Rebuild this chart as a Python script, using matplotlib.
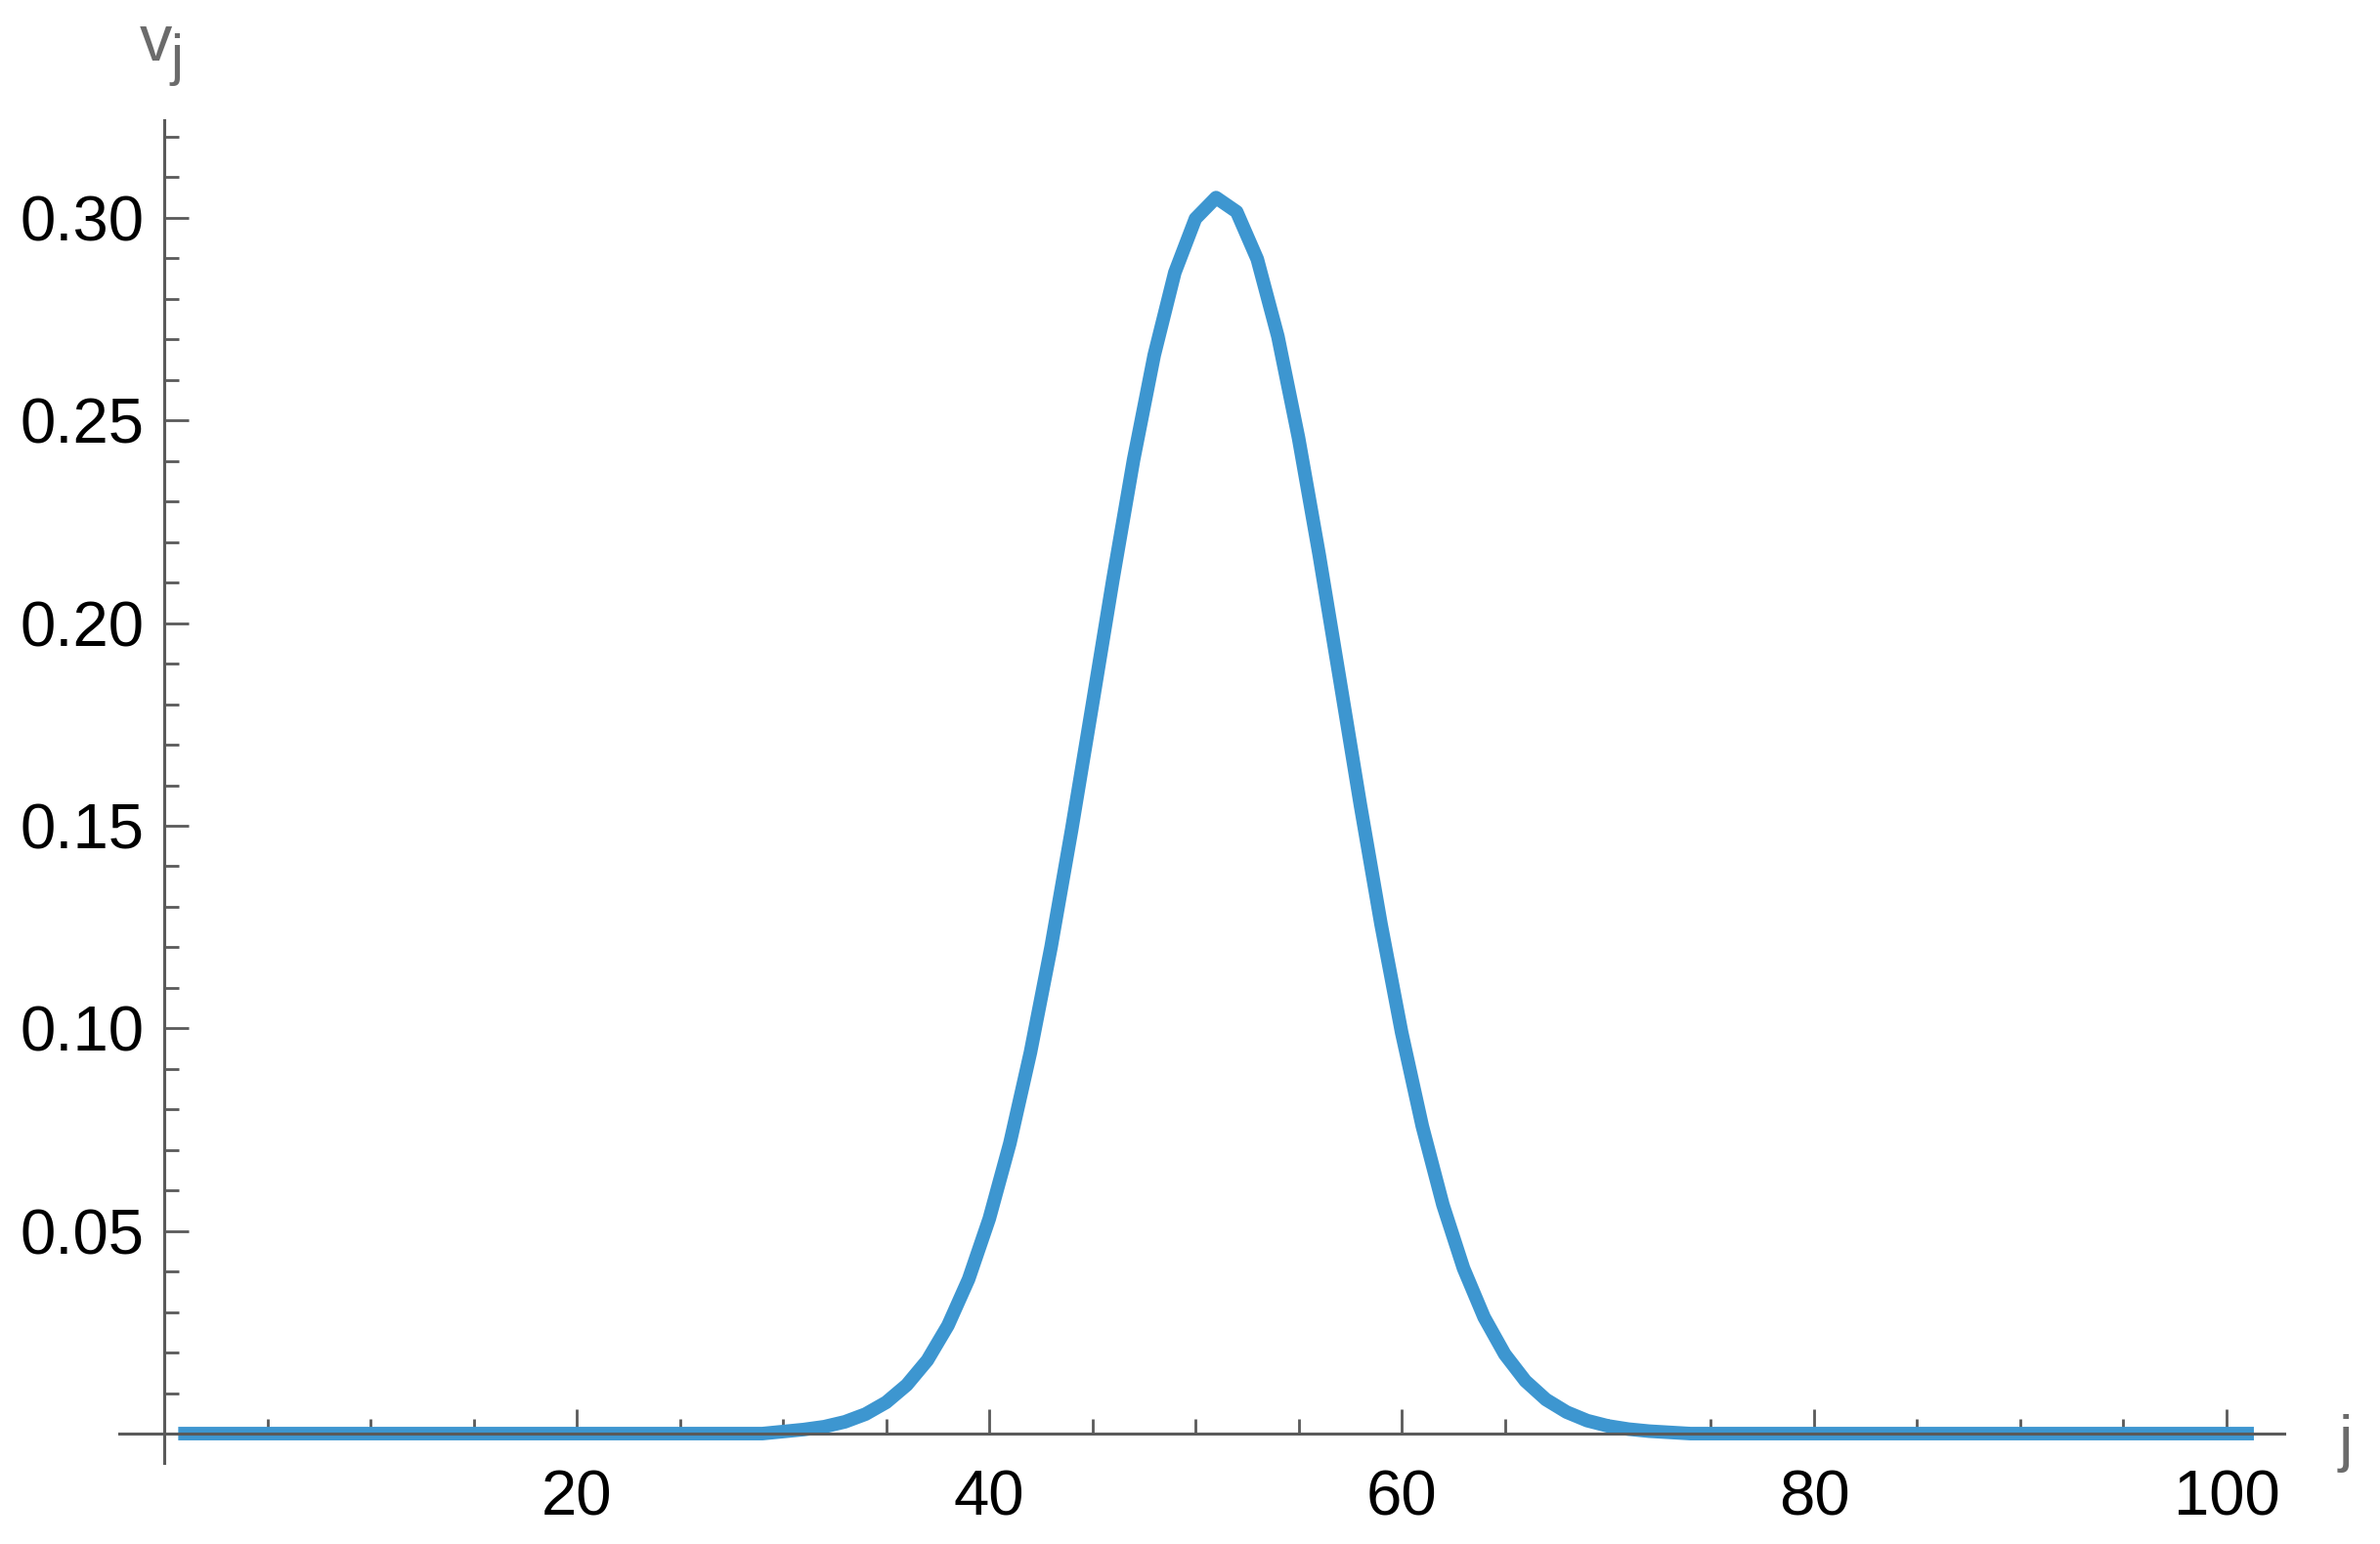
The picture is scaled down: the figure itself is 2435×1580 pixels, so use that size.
import matplotlib
matplotlib.use("Agg")
import matplotlib.pyplot as plt
from matplotlib.ticker import FixedLocator, MultipleLocator, FormatStrFormatter

plt.rcParams["font.family"] = ["Liberation Sans", "DejaVu Sans"]

# site index and amplitude
j = list(range(1, 102))
v = [
    0.0, 0.0, 0.0, 0.0, 0.0, 0.0, 0.0, 0.0, 0.0, 0.0,
    0.0, 0.0, 0.0, 0.0, 0.0, 0.0, 0.0, 0.0, 0.0, 0.0,
    0.0, 0.0, 0.0, 0.0, 0.0, 0.0, 0.0, 0.0, 0.0,
    0.0005, 0.0010, 0.0017, 0.0029, 0.0048, 0.0077, 0.0120, 0.0181, 0.0267, 0.0381,
    0.0530, 0.0716, 0.0941, 0.1201, 0.1491, 0.1798, 0.2108, 0.2403, 0.2661, 0.2865,
    0.2998, 0.3050, 0.3015, 0.2898, 0.2707, 0.2457, 0.2169, 0.1861, 0.1551, 0.1257,
    0.0990, 0.0759, 0.0565, 0.0408, 0.0287, 0.0196, 0.0130, 0.0084, 0.0053, 0.0032,
    0.0019, 0.0011, 0.0006, 0.0003,
    0.0, 0.0, 0.0, 0.0, 0.0, 0.0, 0.0, 0.0, 0.0, 0.0,
    0.0, 0.0, 0.0, 0.0, 0.0, 0.0, 0.0, 0.0, 0.0, 0.0,
    0.0, 0.0, 0.0, 0.0, 0.0, 0.0, 0.0, 0.0,
]
x_major = [20, 40, 60, 80, 100]
y_major = [0.05, 0.10, 0.15, 0.20, 0.25, 0.30]

W, H = 2435, 1580
axis_color = "#5a5a5a"
label_color = "#6b6b6b"
line_color = "#3d96d0"

fig = plt.figure(figsize=(W / 100, H / 100), dpi=100, facecolor="white")
ax = fig.add_axes([122 / W, 1 - 1497 / H, (2337 - 122) / W, (1497 - 123) / H])

ax.plot(j, v, color=line_color, linewidth=10, solid_capstyle="projecting",
        solid_joinstyle="round", zorder=2)

ax.set_xlim(-2.19, 102.8)
ax.set_ylim(-0.00723, 0.3241)

for side in ["top", "right"]:
    ax.spines[side].set_visible(False)
for side in ["left", "bottom"]:
    ax.spines[side].set_position(("data", 0))
    ax.spines[side].set_color(axis_color)
    ax.spines[side].set_linewidth(2.2)
    ax.spines[side].set_zorder(3)

ax.xaxis.set_ticks_position("bottom")
ax.yaxis.set_ticks_position("left")
ax.xaxis.set_major_locator(FixedLocator(x_major))
ax.xaxis.set_minor_locator(MultipleLocator(5))
ax.yaxis.set_major_locator(FixedLocator(y_major))
ax.yaxis.set_minor_locator(MultipleLocator(0.01))
ax.yaxis.set_major_formatter(FormatStrFormatter("%.2f"))

ax.tick_params(which="both", direction="in", color=axis_color, width=2.0,
               labelcolor="black", labelsize=47)
ax.tick_params(which="major", length=18)
ax.tick_params(which="minor", length=11)
ax.tick_params(axis="x", which="major", pad=26)
ax.tick_params(axis="y", which="major", pad=15)

# axis labels, Mathematica style
fig.text(143 / W, 1 - 62 / H, "v", fontsize=48, color=label_color,
         ha="left", va="baseline")
fig.text(174 / W, 1 - 76 / H, "j", fontsize=42, color=label_color,
         ha="left", va="baseline")
fig.text(2393 / W, 1 - 1494 / H, "j", fontsize=47, color=label_color,
         ha="left", va="baseline")

plt.savefig("out.png", dpi=100, facecolor="white")
plt.close()
